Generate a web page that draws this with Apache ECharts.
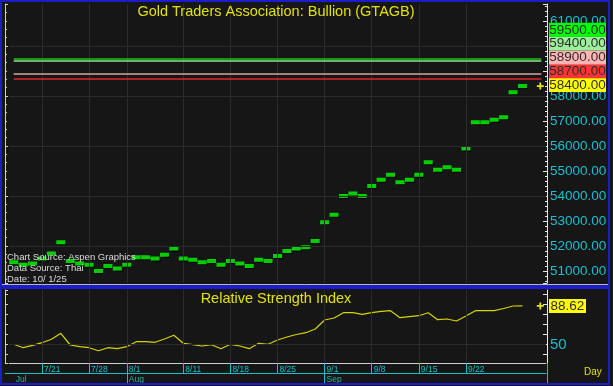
<!DOCTYPE html>
<html><head><meta charset="utf-8">
<script src="https://cdn.jsdelivr.net/npm/echarts@6/dist/echarts.min.js"></script>
<style>html,body{margin:0;padding:0;background:#161616;}#c{width:613px;height:386px;}</style>
</head><body><div id="c"></div>
<script>
// ---- data ----
const dates = ['7/16','7/17','7/18','7/21','7/22','7/23','7/24','7/25','7/28','7/29','7/30','7/31',
  '8/1','8/4','8/5','8/6','8/7','8/8','8/11','8/12','8/13','8/14','8/15','8/18','8/19','8/20','8/21','8/22','8/25','8/26','8/27','8/28','8/29',
  '9/1','9/2','9/3','9/4','9/5','9/8','9/9','9/10','9/11','9/12','9/15','9/16','9/17','9/18','9/19','9/22','9/23','9/24','9/25','9/26','9/29','9/30',
  '10/1','10/2'];
const prices = [51350,51250,51300,51500,51700,52150,51400,51300,51250,51000,51200,51100,
  51250,51550,51550,51500,51650,51900,51500,51450,51350,51400,51250,51400,51300,51200,51450,51400,51600,51800,51900,51950,52200,
  52950,53250,54000,54100,54000,54400,54650,54850,54550,54650,54850,55350,55050,55150,55050,55900,56950,56950,57050,57150,58150,58400];
const rsi = [50.2,46.8,49.2,51.8,55.2,61.2,49.5,47.8,46.8,43.8,46.8,45.8,
  47.8,52.8,52.8,52.2,55.5,59.2,51.2,49.8,48.5,49.8,45.8,50.2,48.5,45.8,51.2,50.2,54.5,57.5,60.0,61.8,65.5,
  74.5,76.5,81.8,81.8,80.2,81.8,83.2,83.8,76.8,77.8,78.8,81.8,74.8,75.5,73.5,78.5,83.8,83.8,83.8,86.0,88.5,88.62];
const tickDates = ['7/21','7/28','8/1','8/11','8/18','8/25','9/1','9/8','9/15','9/22'];
const monthStarts = ['8/1','9/1'];
const monthLabelDates = ['7/16','8/1','9/1'];
const monthNames = ['Jul','Aug','Sep'];
const priceGridLevels = [52000,54000,56000,58000,60000];
const levels = [59500,59400,58900,58700];
const rsiMidLevel = 50;

// ---- style ----
const BG = '#161616';
const GRIDC = '#2b2b2b';
const CYAN = '#18c0cc';
const SANS = '"Liberation Sans",Arial,sans-serif';
const LBLFONT = 13.5;
const levelLine = ['#18c018','#90e490','#d8a4a4','#e02828'];
const levelBox = ['#00ff00','#9cf09c','#ffb4b4','#ff3434'];
const lastBox = '#ffff00';

const P = {left: 9, width: 537, top: 4, height: 279, min: 50520, max: 61680};
const R = {left: 9, width: 537, top: 290, height: 73, min: 31.5, max: 104.5};
const lastCat = dates.length - 1;
const lastIdx = prices.length - 1;
const pxPerUnit = P.height / (P.max - P.min);
const slotH = 13.8;
const boxDX = 36.2;

const tickIdx = tickDates.map(d => dates.indexOf(d));
const labelOrder = [prices[lastIdx]].concat(levels.slice().sort((a,b)=>a-b));
function boxColor(v){ const i = levels.indexOf(v); return i < 0 ? lastBox : levelBox[i]; }

const plusPath = 'path://M3,0H5V3H8V5H5V8H3V5H0V3H3Z';
const priceMarkPoints = labelOrder.map((v,k) => ({
  coord: [lastCat, v], symbol: 'rect', symbolSize: [57, 14],
  symbolOffset: [boxDX, (v - prices[lastIdx]) * pxPerUnit - slotH * k - 1],
  itemStyle: {color: boxColor(v)},
  label: {show: true, position: 'inside', formatter: v.toFixed(2), color: '#2e2e2e', fontSize: LBLFONT, fontFamily: SANS}
}));
priceMarkPoints.push({coord: [lastCat, prices[lastIdx]], symbol: plusPath, symbolSize: 7,
  symbolOffset: [-1, 0], itemStyle: {color: '#e8e800'}, label: {show: false}});

const lastRsi = rsi[rsi.length-1];
const rsiMarkPoints = [
  {coord: [lastCat, lastRsi], symbol: 'rect', symbolSize: [37, 14], symbolOffset: [26.2, 0], itemStyle: {color: lastBox},
   label: {show: true, position: 'inside', formatter: lastRsi.toFixed(2), color: '#2e2e2e', fontSize: LBLFONT, fontFamily: SANS}},
  {coord: [lastCat, lastRsi], symbol: plusPath, symbolSize: 7, symbolOffset: [-1, 0],
   itemStyle: {color: '#e8e800'}, label: {show: false}}
];

const gridLineStyle = {color: GRIDC, width: 1, type: 'solid'};
const vLines = tickIdx.map(i => ({xAxis: i, lineStyle: gridLineStyle}));

const chart = echarts.init(document.getElementById('c'), null, {renderer: 'canvas'});
chart.setOption({
  backgroundColor: BG,
  animation: false,
  grid: [
    {left: P.left, width: P.width, top: P.top, height: P.height, containLabel: false, outerBoundsMode: 'none'},
    {left: R.left, width: R.width, top: R.top, height: R.height, containLabel: false, outerBoundsMode: 'none'}
  ],
  xAxis: [
    {type: 'category', gridIndex: 0, data: dates, boundaryGap: true,
     axisLine: {show: false}, axisTick: {show: false}, axisLabel: {show: false}, splitLine: {show: false}},
    {type: 'category', gridIndex: 1, data: dates, boundaryGap: true, position: 'bottom',
     axisLine: {show: true, lineStyle: {color: '#cfcfcf', width: 1}},
     axisTick: {show: true, alignWithLabel: true, length: 10, interval: (i, v) => tickDates.includes(v), lineStyle: {color: CYAN}},
     axisLabel: {show: true, interval: (i, v) => tickDates.includes(v), color: CYAN, fontSize: 8.5, fontFamily: SANS, align: 'left', margin: 2, padding: [0,0,0,2], hideOverlap: false},
     splitLine: {show: false}},
    {type: 'category', gridIndex: 1, data: dates, boundaryGap: true, position: 'bottom', offset: 10,
     axisLine: {show: true, lineStyle: {color: CYAN, width: 1}},
     axisTick: {show: true, alignWithLabel: true, length: 11, interval: (i, v) => monthStarts.includes(v), lineStyle: {color: CYAN}},
     axisLabel: {show: true, interval: (i, v) => monthLabelDates.includes(v), formatter: v => monthNames[monthLabelDates.indexOf(v)] || '',
       color: '#2cb4a0', fontSize: 8.5, fontFamily: SANS, align: 'left', margin: 2, padding: [0,0,0,2], hideOverlap: false},
     splitLine: {show: false}}
  ],
  yAxis: [
    {type: 'value', gridIndex: 0, position: 'right', offset: 1, min: P.min, max: P.max, minInterval: 1000, maxInterval: 1000,
     axisLine: {show: true, lineStyle: {color: '#e6e6e6'}},
     axisTick: {show: true, inside: true, length: 4, lineStyle: {color: '#e6e6e6'}},
     minorTick: {show: true, splitNumber: 5, length: 2, lineStyle: {color: '#e6e6e6'}},
     axisLabel: {show: true, color: CYAN, fontSize: LBLFONT, fontFamily: SANS, margin: 3, formatter: v => v.toFixed(2), showMinLabel: false, showMaxLabel: false},
     splitLine: {show: false}},
    {type: 'value', gridIndex: 0, position: 'left', offset: 4, min: P.min, max: P.max, minInterval: 2000, maxInterval: 2000,
     axisLine: {show: true, lineStyle: {color: '#d0d0d0'}},
     axisTick: {show: true, inside: true, length: 3, lineStyle: {color: '#d0d0d0'}},
     minorTick: {show: true, splitNumber: 6, length: 2, lineStyle: {color: '#d0d0d0'}},
     axisLabel: {show: false}, splitLine: {show: false}},
    {type: 'value', gridIndex: 1, position: 'right', offset: 1, min: R.min, max: R.max, minInterval: 10, maxInterval: 10,
     axisLine: {show: true, lineStyle: {color: '#e6e6e6'}},
     axisTick: {show: true, inside: true, length: 4, lineStyle: {color: '#e6e6e6'}},
     minorTick: {show: false},
     axisLabel: {show: true, color: CYAN, fontSize: 15, fontFamily: SANS, margin: 3, formatter: v => (v === rsiMidLevel ? String(v) : ''), showMinLabel: false, showMaxLabel: false},
     splitLine: {show: false}},
    {type: 'value', gridIndex: 1, position: 'left', offset: 4, min: R.min, max: R.max, minInterval: 10, maxInterval: 10,
     axisLine: {show: true, lineStyle: {color: '#d0d0d0'}},
     axisTick: {show: true, inside: true, length: 3, lineStyle: {color: '#d0d0d0'}},
     axisLabel: {show: false}, splitLine: {show: false}}
  ],
  series: [
    {type: 'line', name: 'gridP', xAxisIndex: 0, yAxisIndex: 0, data: dates.map(() => null), showSymbol: false, z: 1, silent: true,
     markLine: {silent: true, symbol: ['none','none'], label: {show: false}, animation: false,
       data: priceGridLevels.map(v => ({yAxis: v, lineStyle: gridLineStyle})).concat(vLines)}},
    {type: 'line', name: 'gridR', xAxisIndex: 1, yAxisIndex: 2, data: dates.map(() => null), showSymbol: false, z: 1, silent: true,
     markLine: {silent: true, symbol: ['none','none'], label: {show: false}, animation: false,
       data: [{yAxis: rsiMidLevel, lineStyle: gridLineStyle}].concat(vLines)}},
    {type: 'scatter', name: 'Bullion', xAxisIndex: 0, yAxisIndex: 0, data: prices, z: 3,
     symbol: 'rect', symbolSize: [9, 4],
     itemStyle: {color: '#00ff00', borderColor: '#000', borderWidth: 0, shadowColor: 'rgba(0,0,0,0.9)', shadowOffsetX: 1, shadowOffsetY: 1, shadowBlur: 1},
     markLine: {silent: true, symbol: ['none','none'], label: {show: false}, animation: false,
       data: levels.map((v, i) => [{coord: [0, v], lineStyle: {color: levelLine[i], width: 1.5, type: 'solid'}}, {coord: [lastCat, v]}])},
     markPoint: {silent: true, animation: false, data: priceMarkPoints}},
    {type: 'line', name: 'RSI', xAxisIndex: 1, yAxisIndex: 2, data: rsi, z: 3, showSymbol: false, symbol: 'none',
     lineStyle: {color: '#d4d400', width: 1.2}, itemStyle: {color: '#d4d400'},
     markPoint: {silent: true, animation: false, data: rsiMarkPoints}}
  ],
  graphic: [
    {type: 'rect', z: 50, silent: true, shape: {x: 1, y: 1, width: 608, height: 285}, style: {fill: null, stroke: '#1c1cc8', lineWidth: 2}},
    {type: 'rect', z: 50, silent: true, shape: {x: 1, y: 288, width: 608, height: 96}, style: {fill: null, stroke: '#1c1cc8', lineWidth: 2}},
    {type: 'line', z: 49, silent: true, shape: {x1: 2, y1: 284.5, x2: 609, y2: 284.5}, style: {stroke: '#b8b8b8', lineWidth: 1}},
    {type: 'line', z: 49, silent: true, shape: {x1: 547.5, y1: 363, x2: 547.5, y2: 384}, style: {stroke: CYAN, lineWidth: 1}},
    {type: 'line', z: 49, silent: true, shape: {x1: 5, y1: 373.5, x2: 9, y2: 373.5}, style: {stroke: CYAN, lineWidth: 1}},
    {type: 'text', z: 60, silent: true, x: 276, y: 4, style: {text: 'Gold Traders Association: Bullion (GTAGB)', align: 'center', verticalAlign: 'top',
      fill: '#e2e200', font: '14.5px ' + SANS, textShadowColor: '#000', textShadowOffsetX: 1, textShadowOffsetY: 1, textShadowBlur: 0}},
    {type: 'text', z: 60, silent: true, x: 276, y: 291, style: {text: 'Relative Strength Index', align: 'center', verticalAlign: 'top',
      fill: '#e2e200', font: '14.5px ' + SANS, textShadowColor: '#000', textShadowOffsetX: 1, textShadowOffsetY: 1, textShadowBlur: 0}},
    {type: 'text', z: 60, silent: true, x: 7, y: 252, style: {text: 'Chart Source: Aspen Graphics', fill: '#dcdcdc', font: '9.5px ' + SANS, verticalAlign: 'top'}},
    {type: 'text', z: 60, silent: true, x: 7, y: 263, style: {text: 'Data Source: Thai', fill: '#dcdcdc', font: '9.5px ' + SANS, verticalAlign: 'top'}},
    {type: 'text', z: 60, silent: true, x: 7, y: 274, style: {text: 'Date: 10/ 1/25', fill: '#dcdcdc', font: '9.5px ' + SANS, verticalAlign: 'top'}},
    {type: 'text', z: 60, silent: true, x: 584, y: 367, style: {text: 'Day', fill: '#e2e200', font: '10px ' + SANS, verticalAlign: 'top'}}
  ]
});
</script>
</body></html>
